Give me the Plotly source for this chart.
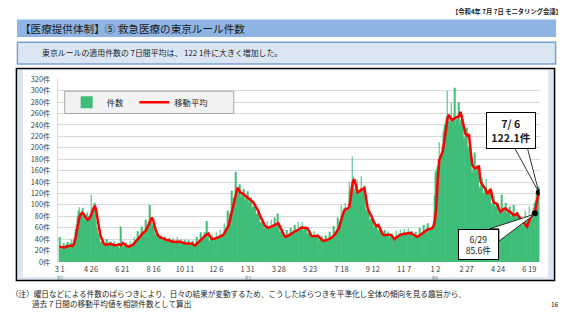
import pandas as pd
import plotly.graph_objects as go

W, H = 569, 320
FONT = "Noto Sans CJK JP"
start = pd.Timestamp("2020-03-01")

# daily counts (one row per week, starting Sun 2020-03-01)
counts = [
    44,22,20,25,24,21,28, 33,24,22,28,26,25,31, 35,25,27,30,24,29,33, 40,28,31,35,38,36,44,
    52,58,66,74,80,85,90, 96,78,82,86,80,79,94, 84,70,73,75,72,74,84, 88,72,76,80,78,81,85,
    118,90,93,96,88,95,99, 104,86,72,60,55,50,49, 46,40,36,34,33,35,35, 38,28,27,30,26,29,32,
    40,30,28,31,29,31,35, 36,27,28,30,27,29,33, 37,28,26,29,28,30,32, 30,24,24,26,62,22,22,
    36,27,26,30,28,29,34, 33,25,23,26,25,27,30, 37,28,27,30,29,31,35, 44,34,36,38,37,40,44,
    54,42,44,46,45,48,50, 62,48,50,53,52,55,58, 74,60,62,66,65,70,72, 100,78,72,70,68,64,66,
    60,52,48,46,47,46,51, 50,40,41,42,40,42,46, 47,37,38,39,37,39,43, 45,35,35,37,36,37,41,
    43,33,33,35,34,35,39, 42,31,32,34,33,35,38, 44,32,33,35,34,36,38, 40,30,30,32,31,33,35,
    39,30,31,33,30,32,36, 38,29,29,31,30,31,36, 37,28,28,30,29,30,35, 44,33,34,36,35,37,40,
    52,40,41,43,42,44,46, 52,44,44,46,72,42,43, 47,37,37,39,38,40,42, 48,38,38,40,39,41,43,
    52,40,41,43,42,44,46, 56,44,45,47,46,48,50, 68,54,56,59,58,62,63, 90,74,78,84,85,88,89,
    125,104,108,112,110,116,116, 158,120,118,122,116,124,124, 136,112,114,117,113,118,123,
    128,106,108,112,108,113,116, 124,102,104,106,102,108,110, 114,95,96,98,95,100,102,
    100,82,84,86,82,86,89, 82,67,68,70,67,70,73, 70,57,58,60,58,61,63, 72,58,57,59,57,60,64,
    74,60,61,63,60,64,66, 78,64,63,66,60,85,60, 64,51,52,54,52,55,57, 52,41,41,43,41,44,46,
    56,44,45,47,45,48,51, 60,48,49,51,49,52,55, 65,52,53,55,53,56,58, 70,56,56,59,56,60,63,
    70,55,57,59,57,60,62, 60,48,49,51,49,52,55, 53,42,42,44,42,45,47, 54,42,43,45,43,46,49,
    47,37,37,39,38,40,42, 45,35,35,37,36,38,40, 47,37,37,39,38,40,42, 53,41,42,44,43,45,47,
    63,50,50,53,51,54,57, 78,64,66,70,70,74,75, 100,84,86,90,88,94,95, 104,88,90,94,92,96,101,
    140,125,130,135,128,185,137, 150,122,124,128,122,130,134, 144,117,119,123,118,125,129,
    150,122,124,128,122,130,134, 110,92,88,90,86,88,90, 90,72,73,75,72,77,80, 73,59,60,62,59,63,65,
    66,53,54,56,53,57,60, 56,44,45,47,45,48,51, 56,45,45,47,44,48,51, 54,43,43,45,43,46,48,
    50,39,39,41,39,42,44, 55,43,44,46,44,47,50, 57,45,46,48,46,49,52, 58,46,47,49,47,50,53,
    59,46,47,49,46,50,53, 54,42,43,45,43,46,49, 53,43,43,45,43,47,48, 60,47,48,50,48,51,53,
    65,52,53,55,52,56,59, 68,54,55,57,54,58,60, 58,56,58,62,70,90,117, 150,158,162,166,168,170,181,
    210,180,185,190,188,196,202, 230,225,235,240,245,250,255, 300,240,242,248,238,245,251,
    280,236,242,250,240,248,261, 305,240,245,250,238,250,257, 280,238,242,248,236,250,256,
    250,210,215,220,212,222,232, 235,195,198,202,192,204,209, 190,155,158,162,156,166,168,
    192,156,158,163,156,167,170, 160,128,131,134,128,138,140, 148,118,121,125,118,128,131,
    146,117,119,123,116,126,128, 122,98,100,103,98,106,108, 116,93,95,98,94,101,103,
    104,83,85,87,83,90,91, 118,86,88,92,86,94,94, 104,83,85,87,83,90,91, 97,77,79,81,77,84,86,
    100,79,81,83,79,86,87, 87,69,70,72,69,75,76, 77,61,63,65,61,67,68, 90,72,73,75,72,78,79,
    98,78,80,82,78,85,87, 90,95,100,104,108,112,119, 118,124,128,132,
]

# 7-day moving average (day offset from 2020-03-01, value)
ma_day = [0,4,8,12,16,20,23,26,29,32,35,38,40,43,46,50,53,56,59,61,63,65,67,69,71,73,76,79,82,86,
          90,94,98,102,106,110,113,116,120,124,128,132,136,140,143,147,150,154,157,160,163,165,167,169,171,174,177,180,184,188,
          192,196,200,205,210,215,219,224,230,237,242,248,254,260,266,269,272,278,284,290,293,297,302,305,308,311,314,316,318,320,
          323,326,329,333,338,342,346,349,352,355,358,362,367,370,373,377,382,386,391,394,397,400,403,407,412,416,420,426,432,438,
          443,446,450,456,462,466,471,477,483,487,492,496,500,504,509,513,518,521,524,527,530,533,536,539,542,545,548,551,554,557,
          561,566,570,574,578,583,588,593,596,599,603,606,610,615,620,624,628,634,640,646,652,658,663,667,670,673,676,679,682,685,
          688,691,694,696,699,702,705,708,711,714,717,720,723,726,729,732,735,738,741,744,747,750,753,756,759,762,765,768,771,774,
          776,779,782,785,788,791,794,797,800,803,806,809,812,815,818,821,824,827,830,833,836,839,842,846,850,853,857]
ma_val = [27,26,25,27,28,29,28,32,45,62,77,84,86,84,78,74,76,82,88,95,99,92,78,68,57,46,37,32,30,31,
          32,31,29,30,31,29,33,31,28,27,29,31,36,40,43,49,51,55,61,67,74,78,74,65,59,50,45,43,42,40,
          38,38,36,35,35,36,34,33,33,32,29,34,40,46,50,45,40,41,43,46,48,55,63,75,88,100,113,124,130,128,
          122,120,119,115,111,108,105,100,96,90,82,73,64,61,60,61,63,66,68,62,57,50,44,45,48,51,53,56,60,60,
          59,54,46,45,46,42,37,38,41,43,48,54,60,75,90,93,96,115,140,145,133,122,124,126,128,130,112,94,87,82,
          72,63,65,55,48,47,48,47,44,40,44,46,48,49,50,50,51,47,44,48,52,57,58,60,66,88,140,178,186,193,
          212,235,252,258,252,249,251,252,254,255,263,250,235,224,221,224,195,170,165,164,166,167,140,136,133,127,119,124,128,112,
          105,103,102,95,88,90,93,94,91,89,88,85,82,83,85,80,76,71,68,65,62,72,78,82,85.6,104,122.1]

tick_dates = ["2020-03-01","2020-04-26","2020-06-21","2020-08-16","2020-10-11","2020-12-06",
              "2021-01-31","2021-03-28","2021-05-23","2021-07-18","2021-09-12","2021-11-07",
              "2022-01-02","2022-02-27","2022-04-24","2022-06-19"]
tick_text = ["3 1","4 26","6 21","8 16","10 11","12 6","1 31","3 28","5 23","7 18","9 12",
             "11 7","1 2","2 27","4 24","6 19"]
era_dates = ["2020-03-01","2021-01-31","2022-01-02"]
era_text = ["R2","R3","R4"]
callout_days = [850, 857]

dates = pd.date_range(start, periods=len(counts), freq="D")
ma_x = start + pd.to_timedelta(ma_day, unit="D")
hl_x = [start + pd.Timedelta(days=d) for d in callout_days]
hl_y = [ma_val[ma_day.index(d)] for d in callout_days]


def px(x):
    return x / W


def py(y):
    return 1 - y / H


fig = go.Figure()
fig.add_trace(go.Bar(x=dates, y=counts, name="件数", marker=dict(color="#3FBD78", line=dict(width=0)),
                     legend="legend"))
fig.add_trace(go.Scatter(x=ma_x, y=ma_val, name="移動平均", mode="lines",
                         line=dict(color="#FF0000", width=2.5), legend="legend2"))
fig.add_trace(go.Scatter(x=hl_x, y=hl_y, mode="markers", marker=dict(color="black", size=6),
                         showlegend=False))


def rect(x0, y0, x1, y1, **kw):
    return dict(type="rect", xref="paper", yref="paper", x0=px(x0), x1=px(x1), y0=py(y0), y1=py(y1), **kw)


shapes = [
    rect(14, 15, 556, 33, fillcolor="#8DB4E2", line=dict(width=0), layer="below"),
    rect(14.5, 38.5, 555.5, 61, fillcolor="#DCE6F2", line=dict(color="#7BA0CD", width=1.5), layer="below"),
    rect(13.5, 65.5, 554.5, 284.5, fillcolor="#DCE6F2", line=dict(color="black", width=1.5), layer="below"),
    rect(20, 67, 548, 281, fillcolor="white", line=dict(width=0), layer="below"),
    rect(62, 89, 232, 112, fillcolor="#F2F2F2", line=dict(color="#A6A6A6", width=1), layer="above"),
]

# callout wedges (pixel offsets relative to the highlighted points)
wedges = ["M0,-1 L-45.3,-15.7 L-36,-15.7 L-36,-28 Z", "M0,0 L-24.6,45 L-11.6,45 Z"]
for xv, yv, p in zip(hl_x, hl_y, wedges):
    shapes.append(dict(type="path", xref="x", yref="y", xsizemode="pixel", ysizemode="pixel",
                       xanchor=xv, yanchor=yv, path=p, fillcolor="white",
                       line=dict(color="black", width=0.8), layer="above"))

ann = []
txt = lambda s, x, y, size, **kw: dict(text=s, x=px(x), y=py(y), xref="paper", yref="paper",
                                       showarrow=False, font=dict(family=FONT, size=size,
                                                                  color=kw.pop("color", "#1A1A1A")), **kw)
ann.append(txt("<b>【令和4年 7月 7日 モニタリング会議】</b>", 564, 7, 6.3, xanchor="right", yanchor="middle"))
ann.append(txt("【医療提供体制】⑤ 救急医療の東京ルール件数", 15, 24.5, 10.6, xanchor="left", yanchor="middle"))
ann.append(txt("東京ルールの適用件数の 7日間平均は、 122 1件に大きく増加した。", 37, 49.5, 7.9,
               xanchor="left", yanchor="middle"))
ann.append(txt("（注）曜日などによる件数のばらつきにより、日々の結果が変動するため、こうしたばらつきを平準化し全体の傾向を見る趣旨から、",
               6, 297.5, 7.6, xanchor="left", yanchor="middle"))
ann.append(txt("過去７日間の移動平均値を相談件数として算出", 27, 308.5, 7.6, xanchor="left", yanchor="middle"))
ann.append(txt("16", 561, 308.5, 6.5, xanchor="right", yanchor="middle"))

for d, t in zip(era_dates, era_text):
    ann.append(dict(text=t, x=d, y=py(281.5), xref="x", yref="paper", showarrow=False,
                    font=dict(family=FONT, size=5, color="#7F7F7F"), xanchor="center", yanchor="middle"))

# callout boxes
box_specs = [(-56.6, 31.2, 41, 31, 8.6, False), (-27.6, -61.8, 50, 37, 10.6, True)]
for xv, yv, (ax, ay, bw, bh, fs, bold) in zip(hl_x, hl_y, box_specs):
    label = f"{xv.month}/{xv.day:>2}"
    s = f"{label}<br>{yv:.1f}件"
    if bold:
        s = f"<b>{label}</b><br><b>{yv:.1f}件</b>"
    ann.append(dict(text=s, x=xv, y=yv, xref="x", yref="y", showarrow=True, ax=ax, ay=ay,
                    arrowcolor="rgba(0,0,0,0)", arrowwidth=0.1, bgcolor="white", bordercolor="black",
                    borderwidth=1, borderpad=0, width=bw - 2, height=bh - 2,
                    font=dict(family=FONT, size=fs, color="#1A1A1A")))

fig.update_layout(
    width=W, height=H, margin=dict(l=0, r=0, t=0, b=0),
    paper_bgcolor="white", plot_bgcolor="rgba(0,0,0,0)",
    bargap=0.1, shapes=shapes, annotations=ann,
    font=dict(family=FONT, color="#404040"),
    legend=dict(x=px(64), y=py(100.5), xanchor="left", yanchor="middle", orientation="h",
                bgcolor="rgba(0,0,0,0)", borderwidth=0, font=dict(family=FONT, size=8.3, color="#262626")),
    legend2=dict(x=px(132), y=py(100.5), xanchor="left", yanchor="middle", orientation="h",
                 bgcolor="rgba(0,0,0,0)", borderwidth=0, font=dict(family=FONT, size=8.3, color="#262626")),
    xaxis=dict(domain=[px(55), px(539.5)], type="date",
               range=[start - pd.Timedelta(hours=84), start + pd.Timedelta(hours=858.5 * 24)],
               tickvals=tick_dates, ticktext=tick_text, showgrid=False, zeroline=False, showline=False,
               ticks="", tickangle=0, ticklabelstandoff=1,
               tickfont=dict(family=FONT, size=7.5, color="#404040")),
    yaxis=dict(domain=[py(265.3), py(76.7)], range=[0, 320], dtick=20, ticksuffix="件",
               showgrid=True, gridcolor="#D9D9D9", gridwidth=1, zeroline=False,
               showline=True, linecolor="#D9D9D9", ticks="", ticklabelstandoff=5,
               tickfont=dict(family=FONT, size=7.3, color="#404040")),
)

fig.write_html("out.html")
